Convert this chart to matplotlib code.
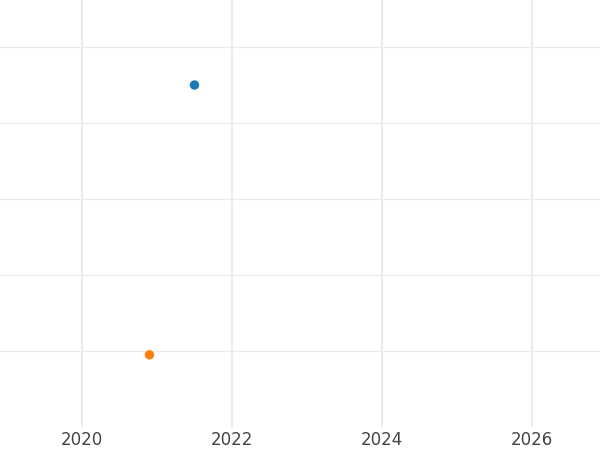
import matplotlib
matplotlib.use('Agg')
import matplotlib.pyplot as plt

# data
years = [2021.5, 2020.9]
values = [4.5, 0.95]
colors = ['#1f77b4', '#ff7f0e']

x_ticks = [2020, 2022, 2024, 2026]
y_ticks = [1, 2, 3, 4, 5]

fig = plt.figure(figsize=(6, 4.5), dpi=100)
ax = fig.add_axes([0, 23 / 450, 1, 427 / 450])

ax.scatter(years, values, c=colors, s=46, zorder=3, linewidths=0)

ax.set_xlim(2018.907, 2026.907)
ax.set_ylim(0, 427 / 76)
ax.set_xticks(x_ticks)
ax.set_yticks(y_ticks)
ax.set_xticklabels([str(t) for t in x_ticks])
ax.set_yticklabels([])

ax.grid(axis='x', color='#ebebeb', linewidth=1.4)
ax.grid(axis='y', color='#ebebeb', linewidth=0.8)
ax.set_axisbelow(True)
ax.tick_params(axis='both', length=0, labelsize=12, labelcolor='#444444', pad=3)
for s in ax.spines.values():
    s.set_visible(False)

fig.savefig('out.png', dpi=100)
